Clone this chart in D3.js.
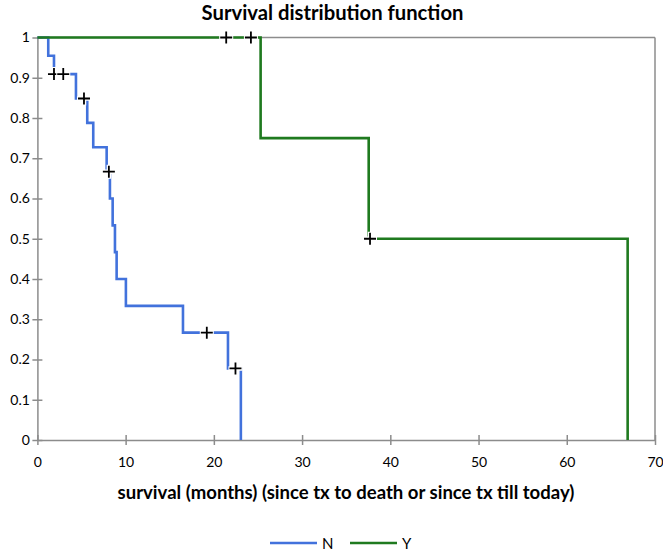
<!DOCTYPE html>
<html><head><meta charset="utf-8">
<script src="https://cdn.jsdelivr.net/npm/d3@7"></script>
<style>html,body{margin:0;padding:0;background:#fff}svg{display:block}</style>
</head><body>
<svg id="c" width="663" height="555"></svg>
<script>
// ---- data ----
const xTicks = [0,10,20,30,40,50,60,70];
const yTicks = [0,0.1,0.2,0.3,0.4,0.5,0.6,0.7,0.8,0.9,1];
const yTickLabels = ["0","0.1","0.2","0.3","0.4","0.5","0.6","0.7","0.8","0.9","1"];
// Group N: event times and survival after each event
const nTimes = [0, 1.23, 1.88, 4.37, 5.65, 6.33, 7.85, 8.22, 8.53, 8.79, 8.98, 10.03, 16.5, 21.6, 23.06];
const nSurv  = [1, 0.9545, 0.9091, 0.8485, 0.7879, 0.7273, 0.6667, 0.6, 0.5333, 0.4667, 0.4, 0.3333, 0.2667, 0.1778, 0];
const nCensT = [1.88, 2.93, 5.28, 8.1, 19.2, 22.45];
const nCensS = [0.9091, 0.9091, 0.8485, 0.6667, 0.2667, 0.1778];
// Group Y
const yTimes = [0, 25.3, 37.55, 66.9];
const ySurv  = [1, 0.75, 0.5, 0];
const yCensT = [21.4, 24.2, 37.7];
const yCensS = [1, 1, 0.5];
const seriesNames = ["N","Y"];
const colors = ["#4272dc","#1f7a1f"];

const svg = d3.select("#c");
const L=37.4, R=655, T=37.5, B=440;
const x = d3.scaleLinear().domain([0,70]).range([L,R]);
const y = d3.scaleLinear().domain([0,1]).range([B,T]);
const axisCol = "#8c8c8c";
const font = "Lato, 'Noto Sans', sans-serif";

// frame top & right
svg.append("line").attr("x1",L).attr("x2",R).attr("y1",T).attr("y2",T).attr("stroke",axisCol).attr("stroke-width",1.5);
svg.append("line").attr("x1",R).attr("x2",R).attr("y1",T).attr("y2",B).attr("stroke",axisCol).attr("stroke-width",1.5);

// axes
const xAxis = d3.axisBottom(x).tickValues(xTicks).tickSizeInner(5).tickSizeOuter(0).tickPadding(12).tickFormat(d3.format("d"));
const gx = svg.append("g").attr("transform",`translate(0,${B})`).call(xAxis);
gx.selectAll(".tick line").attr("y1",-5).attr("y2",5);
const yAxis = d3.axisLeft(y).tickValues(yTicks).tickSizeInner(5).tickSizeOuter(0).tickPadding(2.5).tickFormat((d,i)=>yTickLabels[i]);
const gy = svg.append("g").attr("transform",`translate(${L},0)`).call(yAxis);
gy.selectAll(".tick line").attr("x1",-5).attr("x2",5);
[gx,gy].forEach(g=>{
  g.select(".domain").attr("stroke",axisCol).attr("stroke-width",1.5);
  g.selectAll(".tick line").attr("stroke",axisCol).attr("stroke-width",1.5);
  g.selectAll(".tick text").attr("fill","#000").style("font-family",font).style("font-size","14px");
});

// step lines
function stepPath(times, surv){
  let p = [];
  for(let i=0;i<times.length;i++){
    if(i>0) p.push([times[i], surv[i-1]]);
    p.push([times[i], surv[i]]);
  }
  return p;
}
const line = d3.line().x(d=>x(d[0])).y(d=>y(d[1]));
const series = [[nTimes,nSurv,nCensT,nCensS],[yTimes,ySurv,yCensT,yCensS]];
series.forEach((s,k)=>{
  svg.append("path").attr("d",line(stepPath(s[0],s[1]))).attr("fill","none")
    .attr("stroke",colors[k]).attr("stroke-width",2.6).attr("stroke-linejoin","miter");
});
// censor marks
series.forEach(s=>{
  s[2].forEach((t,i)=>{
    const cx=x(t), cy=y(s[3][i]);
    const g=svg.append("g");
    g.append("path").attr("d",`M${cx-7},${cy}H${cx+7}M${cx},${cy-7}V${cy+7}`).attr("stroke","#fff").attr("stroke-width",4.5);
    g.append("path").attr("d",`M${cx-6},${cy}H${cx+6}M${cx},${cy-6}V${cy+6}`).attr("stroke","#000").attr("stroke-width",1.8);
  });
});

// titles
function fitText(sel, target){
  const w = sel.node().getComputedTextLength();
  const fs = parseFloat(sel.style("font-size"));
  sel.style("font-size",(fs*target/w)+"px");
}
const title = svg.append("text").attr("x",332.5).attr("y",19.5).attr("text-anchor","middle")
  .style("font-family",font).style("font-weight","bold").style("font-size","16px").text("Survival distribution function");
fitText(title,262);
const xt = svg.append("text").attr("x",346).attr("y",499).attr("text-anchor","middle")
  .style("font-family",font).style("font-weight","bold").style("font-size","16px").text("survival (months) (since tx to death or since tx till today)");
fitText(xt,457);

// legend
const legX=[270,350];
seriesNames.forEach((n,k)=>{
  svg.append("line").attr("x1",legX[k]).attr("x2",legX[k]+47).attr("y1",543).attr("y2",543).attr("stroke",colors[k]).attr("stroke-width",2.6);
  svg.append("text").attr("x",legX[k]+52).attr("y",548.5).style("font-family",font).style("font-size","15px").text(n);
});
</script>
</body></html>
